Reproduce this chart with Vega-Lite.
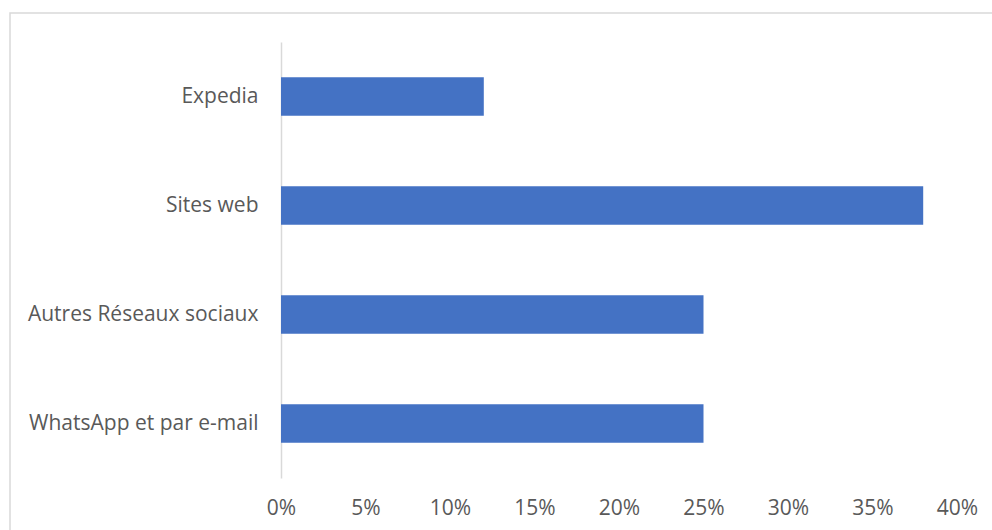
{
  "$schema": "https://vega.github.io/schema/vega-lite/v6.json",
  "autosize": {"type": "none"},
  "padding": {"left": 10, "top": 13, "right": 0, "bottom": 0},
  "width": 990,
  "height": 522,
  "background": "white",
  "config": {
    "view": {"stroke": "#d9d9d9", "strokeWidth": 1.5},
    "font": "Open Sans"
  },
  "data": {
    "values": [
      {"canal": "Expedia", "part": 0.12},
      {"canal": "Sites web", "part": 0.38},
      {"canal": "Autres Réseaux sociaux", "part": 0.25},
      {"canal": "WhatsApp et par e-mail", "part": 0.25}
    ]
  },
  "mark": {"type": "bar", "color": "#4472C4"},
  "encoding": {
    "y": {
      "field": "canal",
      "type": "nominal",
      "sort": null,
      "scale": {"range": [29, 465], "paddingInner": 0.645, "paddingOuter": 0.3225},
      "axis": {
        "title": null,
        "offset": -271,
        "ticks": false,
        "tickSize": 0,
        "labelPadding": 23,
        "labelLimit": 0,
        "labelFontSize": 21,
        "labelColor": "#595959",
        "labelFont": "Open Sans",
        "domainColor": "#d9d9d9",
        "domainWidth": 1.5
      }
    },
    "x": {
      "field": "part",
      "type": "quantitative",
      "scale": {"domain": [0, 0.4], "range": [271, 947], "nice": false},
      "axis": {
        "title": null,
        "format": ".0%",
        "values": [0, 0.05, 0.1, 0.15, 0.2, 0.25, 0.3, 0.35, 0.4],
        "domain": false,
        "ticks": false,
        "tickSize": 0,
        "grid": false,
        "offset": -38,
        "labelPadding": 0,
        "labelFlush": false,
        "labelOverlap": false,
        "labelBaseline": "top",
        "labelFontSize": 21,
        "labelColor": "#595959",
        "labelFont": "Open Sans"
      }
    }
  }
}
